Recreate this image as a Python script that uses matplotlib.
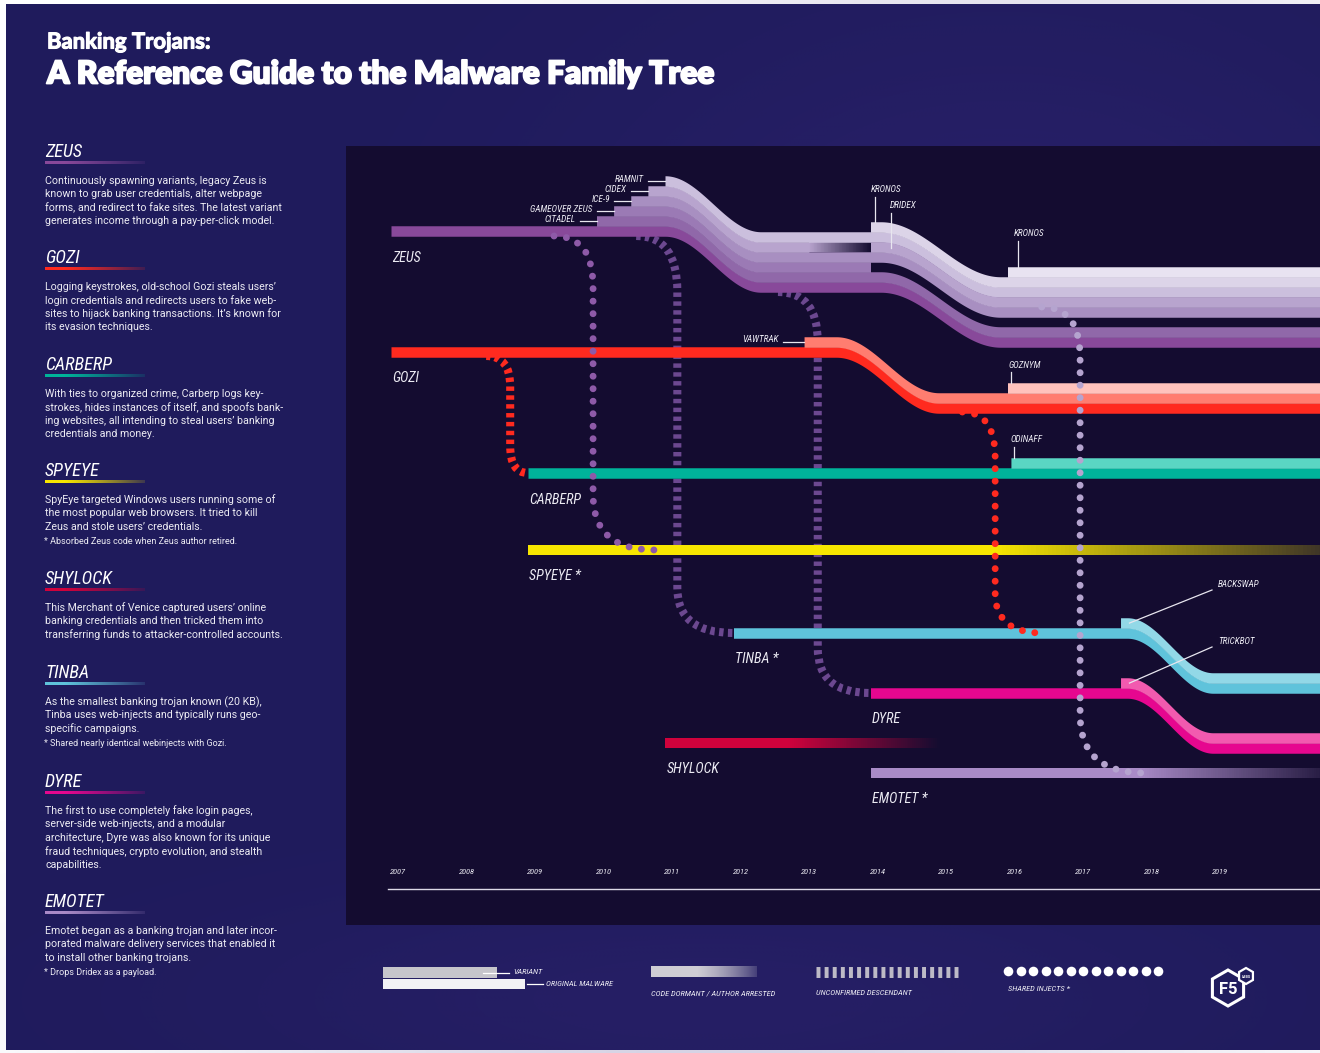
import numpy as np
import matplotlib
matplotlib.use('Agg')
import matplotlib.pyplot as plt
from matplotlib.path import Path
from matplotlib.patches import PathPatch, Rectangle, Polygon
from matplotlib import font_manager as fm
from matplotlib.colors import to_rgb
import matplotlib.patheffects as pe

# ---------------------------------------------------------------- data
years = list(range(2007, 2020))
year_labels = [str(y) for y in years]

families = ['ZEUS', 'GOZI', 'CARBERP', 'SPYEYE', 'TINBA', 'DYRE', 'SHYLOCK', 'EMOTET']
family_labels = ['ZEUS', 'GOZI', 'CARBERP', 'SPYEYE *', 'TINBA *', 'DYRE', 'SHYLOCK', 'EMOTET *']
family_start = [2007.0, 2007.0, 2009.0, 2009.0, 2012.0, 2014.0, 2011.0, 2014.0]
family_end = [None, None, None, None, None, None, 2015.0, None]
family_fade = [None, None, None, (2015.8, 0.18), None, None, (2012.8, 0.0), (2017.9, 0.12)]
family_colors = ['#88499a', '#ff2a1f', '#00b39a', '#f7e600', '#5fc3db', '#e6078f', '#d0023c', '#a98bc7']

# bundle shifts: (family, start year, end year, shift in lane rows)
shift_family = ['ZEUS', 'ZEUS', 'GOZI', 'TINBA', 'DYRE']
shift_start = [2011.0, 2014.15, 2013.5, 2017.75, 2017.75]
shift_end = [2012.4, 2015.9, 2015.0, 2019.0, 2019.0]
shift_rows = [56, 55, 56, 55, 55]

# variants: parent, name, stacking level, start, end, fade start
variant_parent = ['ZEUS', 'ZEUS', 'ZEUS', 'ZEUS', 'ZEUS', 'ZEUS', 'ZEUS', 'ZEUS',
                  'GOZI', 'GOZI', 'CARBERP', 'TINBA', 'DYRE']
variant_names = ['CITADEL', 'GAMEOVER ZEUS', 'ICE-9', 'CIDEX', 'RAMNIT', 'DRIDEX', 'KRONOS', 'KRONOS',
                 'VAWTRAK', 'GOZNYM', 'ODINAFF', 'BACKSWAP', 'TRICKBOT']
variant_level = [1, 2, 3, 4, 5, 4, 6, 7, 1, 2, 1, 1, 1]
variant_start = [2010.0, 2010.25, 2010.5, 2010.75, 2011.0, 2014.0, 2014.0, 2016.0,
                 2013.03, 2016.0, 2016.05, 2017.65, 2017.65]
variant_end = [None, 2014.0, None, 2014.0, None, None, None, None,
               None, None, None, None, None]
variant_fade = [None, None, None, 2013.1, None, None, None, None,
                None, None, None, None, None]
variant_colors = ['#9068a9', '#9b7ab5', '#a88fc1', '#b8a4ce', '#cbbfdd', '#b8a4ce', '#dcd4e8', '#e8e3f1',
                  '#ff7d70', '#ffc3bd', '#5ad6c3', '#92d8e7', '#f25aaf']

# relations: from, to, kind, start year, vertical year, end year
rel_from = ['GOZI', 'ZEUS', 'ZEUS', 'ZEUS', 'GOZI', 'ZEUS']
rel_to = ['CARBERP', 'SPYEYE', 'TINBA', 'DYRE', 'TINBA', 'EMOTET']
rel_kind = ['descendant', 'injects', 'descendant', 'descendant', 'injects', 'injects']
rel_x_start = [2008.39, 2009.38, 2010.58, 2012.65, 2015.34, 2016.5]
rel_x_turn = [2008.74, 2009.95, 2011.18, 2013.23, 2015.82, 2017.06]
rel_x_end = [2009.0, 2010.85, 2012.0, 2013.99, 2016.5, 2018.0]

# ---------------------------------------------------------------- layout / style
W, H, DPI = 1320, 1053, 100
OUTER = '#1f1b5c'
PANEL = '#140c30'
TXT = '#ecebf3'
PX0, PXY = 391.0, 68.5          # pixel of 2007, pixels per year
def px2yr(p):
    return 2007 + (p - PX0) / PXY

lane_row = dict(zip(families, [231, 352, 473, 550, 633, 693, 743, 773]))
BAND = 10.0
rel_start_row_by_idx = [356, 236, 236, 292, 412, 307]
rel_r1 = [30, 50, 55, 50, 45, 50]
rel_r2 = [27, 55, 45, 45, 40, 58]
rel_color = ['#ff2a1f', '#8e5aa8', '#6c4890', '#6c4890', '#ff2a1f', '#b5a4cf']

avail = {f.name for f in fm.fontManager.ttflist}
def pick(*names):
    for n in names:
        if n in avail:
            return n
    return 'DejaVu Sans'
COND = pick('Liberation Sans Narrow', 'Roboto Condensed', 'Open Sans Condensed', 'Roboto', 'DejaVu Sans')
BODY = pick('Roboto', 'Lato', 'Open Sans', 'DejaVu Sans')
TITLE = pick('Lato', 'Inter', 'Roboto', 'DejaVu Sans')

fig = plt.figure(figsize=(W / DPI, H / DPI), dpi=DPI, facecolor='white')
bg = fig.add_axes([0, 0, 1, 1])
bg.set_xlim(0, W); bg.set_ylim(H, 0); bg.axis('off')
bg.add_patch(Rectangle((6, 4), W - 6, 1046, color=OUTER, zorder=0, lw=0))
# soft glow (decoration)
gy, gx = np.mgrid[0:H:4, 0:W:4]
glow = np.exp(-(((gx - 1000) / 420.0) ** 2 + ((gy - 300) / 300.0) ** 2)) * 0.35 \
     + np.exp(-(((gx - 700) / 500.0) ** 2 + ((gy - 1000) / 120.0) ** 2)) * 0.25
rgba = np.zeros(gx.shape + (4,))
rgba[..., :3] = to_rgb('#3a2a80')
rgba[..., 3] = glow
bg.imshow(rgba, extent=(0, W, H, 0), zorder=0.5, interpolation='bilinear', aspect='auto')
bg.add_patch(Rectangle((346, 146), W - 346, 779, color=PANEL, zorder=1, lw=0))
bg.set_xlim(0, W); bg.set_ylim(H, 0)

X0, X1, Y0, Y1 = 346, 1320, 146, 925
ax = fig.add_axes([X0 / W, 1 - Y1 / H, (X1 - X0) / W, (Y1 - Y0) / H])
XMIN, XMAX = px2yr(X0), px2yr(X1)
ax.set_xlim(XMIN, XMAX); ax.set_ylim(Y1, Y0); ax.axis('off')

fig.canvas.draw()
R = fig.canvas.get_renderer()

def fit(axh, x, y, s, width, size0=10, **kw):
    t = axh.text(x, y, s, fontsize=size0, **kw)
    w = t.get_window_extent(R).width
    t.set_fontsize(size0 * width / w)
    return t

def size_for(s, width, **kw):
    t = bg.text(0, 0, s, fontsize=10, **kw)
    w = t.get_window_extent(R).width
    t.remove()
    return 10 * width / w

# ---------------------------------------------------------------- bands
def centre(fam, x):
    y = np.full_like(x, lane_row[fam], dtype=float)
    for f, a, b, d in zip(shift_family, shift_start, shift_end, shift_rows):
        if f == fam:
            t = np.clip((x - a) / (b - a), 0, 1)
            y = y + d * (0.5 - 0.5 * np.cos(np.pi * t))
    return y

pan = np.array(to_rgb(PANEL))
def band(fam, level, x0, x1, color, fade=None, z=3):
    x1 = XMAX + 0.05 if x1 is None else x1
    c = np.array(to_rgb(color))
    if fade is None:
        xs = np.linspace(x0, x1, 600)
        yc = centre(fam, xs) - BAND * level
        ax.fill_between(xs, yc - BAND / 2 - 0.25, yc + BAND / 2 + 0.25, color=c, lw=0, zorder=z)
        return
    fstart, a_end = fade
    xs = np.linspace(x0, fstart, 300)
    yc = centre(fam, xs) - BAND * level
    ax.fill_between(xs, yc - BAND / 2 - 0.25, yc + BAND / 2 + 0.25, color=c, lw=0, zorder=z)
    edges = np.linspace(fstart, x1, 80)
    for i in range(len(edges) - 1):
        a = 1 - (1 - a_end) * (i + 0.5) / (len(edges) - 1)
        col = a * c + (1 - a) * pan
        xs = np.array([edges[i], edges[i + 1] + 0.003])
        yc = centre(fam, xs) - BAND * level
        ax.fill_between(xs, yc - BAND / 2 - 0.25, yc + BAND / 2 + 0.25, color=col, lw=0, zorder=z)

def relation(i):
    fam_to = rel_to[i]
    xs, xv, xe = rel_x_start[i], rel_x_turn[i], rel_x_end[i]
    ys = rel_start_row_by_idx[i]
    ye = lane_row[fam_to]
    verts = [(xs, ys), (xv, ys), (xv, ys + rel_r1[i]), (xv, ye - rel_r2[i]), (xv, ye), (xe, ye)]
    codes = [Path.MOVETO, Path.CURVE3, Path.CURVE3, Path.LINETO, Path.CURVE3, Path.CURVE3]
    if rel_kind[i] == 'descendant':
        p = PathPatch(Path(verts, codes), fill=False, lw=5.8, ec=rel_color[i],
                      ls=(0, (0.55, 0.55)), zorder=2)
        p.set_capstyle('butt')
    else:
        p = PathPatch(Path(verts, codes), fill=False, lw=5.0, ec=rel_color[i],
                      ls=(0, (0.001, 1.8)), zorder=6)
        p.set_capstyle('round')
    ax.add_patch(p)

for i in range(len(rel_from)):
    relation(i)

for f, s, e, fd, c in zip(families, family_start, family_end, family_fade, family_colors):
    band(f, 0, s, e, c, fd)
for p, n, lv, s, e, fd, c in zip(variant_parent, variant_names, variant_level, variant_start,
                                  variant_end, variant_fade, variant_colors):
    band(p, lv, s, e, c, None if fd is None else (fd, 0.0))

# family labels
lab_size = size_for('CARBERP', 52, family=COND, style='italic')
for f, lab, s in zip(families, family_labels, family_start):
    ax.text(s + 0.02, lane_row[f] + 26.5, lab, fontsize=lab_size, family=COND, style='italic',
            color=TXT, va='center', ha='left', zorder=7)

# variant labels
vs = size_for('GAMEOVER ZEUS', 62, family=COND, style='italic')
vkw = dict(fontsize=vs, family=COND, style='italic', color=TXT, zorder=8)
lkw = dict(color='#e8e6ef', lw=0.9, zorder=8)
for n, lv, s in zip(variant_names[:5], variant_level[:5], variant_start[:5]):
    yrow = lane_row['ZEUS'] - BAND * lv
    ax.plot([s - 17 / PXY, s], [yrow, yrow], **lkw)
    ax.text(s - 21 / PXY, yrow - 1, n, ha='right', va='center', **vkw)
def vlead(parent, level, s, xline, ytext, yend, name):
    yb = centre(parent, np.array([s]))[0] - BAND * level
    ax.plot([xline, xline], [ytext + 7, yend if yend is not None else yb - BAND / 2], **lkw)
    ax.text(s, ytext, name, ha='left', va='center', **vkw)
vlead('ZEUS', 6, 2014.0, 2014.07, 190, None, 'KRONOS')
vlead('ZEUS', 4, 2014.28, 2014.3, 206, centre('ZEUS', np.array([2014.3]))[0] - BAND * 4, 'DRIDEX')
vlead('ZEUS', 7, 2016.09, 2016.15, 234, None, 'KRONOS')
vlead('GOZI', 2, 2016.02, 2016.05, 365, None, 'GOZNYM')
vlead('CARBERP', 1, 2016.05, 2016.1, 440, None, 'ODINAFF')
yv = lane_row['GOZI'] - BAND
ax.plot([px2yr(783), 2013.03], [yv, yv], **lkw)
ax.text(px2yr(779), yv - 2, 'VAWTRAK', ha='right', va='center', **vkw)
for parent, name, ytext in [('TINBA', 'BACKSWAP', 585), ('DYRE', 'TRICKBOT', 642)]:
    yb = centre(parent, np.array([2017.78]))[0] - BAND
    ax.plot([2017.78, px2yr(1212)], [yb, ytext + 5], **lkw)
    ax.text(px2yr(1218), ytext, name, ha='left', va='center', **vkw)

# year axis
ys_ = size_for('2007', 16, family=COND, style='italic')
for y, l in zip(years, year_labels):
    ax.text(y - 0.015, 872, l, fontsize=ys_, family=COND, style='italic', color=TXT,
            ha='left', va='center', zorder=7)
ax.plot([px2yr(388), XMAX + 0.1], [889, 889], color='#dcd9e6', lw=1.0, zorder=7, clip_on=True)

# ---------------------------------------------------------------- title
bold_fx = [pe.withStroke(linewidth=1.3, foreground='white')]
fit(bg, 47, 42, 'Banking Trojans:', 164, family=TITLE, weight='bold', color='white', va='center',
    zorder=5, path_effects=[pe.withStroke(linewidth=0.8, foreground='white')])
fit(bg, 47, 74, 'A Reference Guide to the Malware Family Tree', 670, family=TITLE, weight='heavy',
    color='white', va='center', zorder=5, path_effects=bold_fx)

# ---------------------------------------------------------------- left panel text
sections = [
    ('ZEUS', family_colors[0], 152, ["Continuously spawning variants, legacy Zeus is",
                                    "known to grab user credentials, alter webpage",
                                    "forms, and redirect to fake sites. The latest variant",
                                    "generates income through a pay-per-click model."], None),
    ('GOZI', family_colors[1], 258, ["Logging keystrokes, old-school Gozi steals users\u2019",
                                    "login credentials and redirects users to fake web-",
                                    "sites to hijack banking transactions. It\u2019s known for",
                                    "its evasion techniques."], None),
    ('CARBERP', family_colors[2], 365, ["With ties to organized crime, Carberp logs key-",
                                       "strokes, hides instances of itself, and spoofs bank-",
                                       "ing websites, all intending to steal users\u2019 banking",
                                       "credentials and money."], None),
    ('SPYEYE', family_colors[3], 471, ["SpyEye targeted Windows users running some of",
                                      "the most popular web browsers. It tried to kill",
                                      "Zeus and stole users\u2019 credentials."],
     "* Absorbed Zeus code when Zeus author retired."),
    ('SHYLOCK', family_colors[6], 579, ["This Merchant of Venice captured users\u2019 online",
                                       "banking credentials and then tricked them into",
                                       "transferring funds to attacker-controlled accounts."], None),
    ('TINBA', family_colors[4], 673, ["As the smallest banking trojan known (20 KB),",
                                     "Tinba uses web-injects and typically runs geo-",
                                     "specific campaigns."],
     "* Shared nearly identical webinjects with Gozi."),
    ('DYRE', family_colors[5], 782, ["The first to use completely fake login pages,",
                                    "server-side web-injects, and a modular",
                                    "architecture, Dyre was also known for its unique",
                                    "fraud techniques, crypto evolution, and stealth",
                                    "capabilities."], None),
    ('EMOTET', family_colors[7], 902, ["Emotet began as a banking trojan and later incor-",
                                      "porated malware delivery services that enabled it",
                                      "to install other banking trojans."],
     "* Drops Dridex as a payload."),
]
hs = size_for('SHYLOCK', 68, family=COND, style='italic')
bs = size_for('forms, and redirect to fake sites. The latest variant', 238, family=BODY)
fs = size_for('* Absorbed Zeus code when Zeus author retired.', 193, family=BODY)
for name, col, yh, lines, foot in sections:
    bg.text(45, yh, name, fontsize=hs, family=COND, style='italic', color='white', va='center', zorder=5)
    c = np.array(to_rgb(col))
    grad = np.zeros((1, 100, 4))
    grad[0, :, :3] = c
    grad[0, :, 3] = np.clip(1.15 - np.linspace(0, 1, 100) ** 1.2, 0, 1)
    bg.imshow(grad, extent=(45, 145, yh + 12, yh + 9), aspect='auto', zorder=5, interpolation='bilinear')
    for j, ln in enumerate(lines):
        bg.text(45, yh + 29 + 13.4 * j, ln, fontsize=bs, family=BODY, color=TXT, va='center', zorder=5)
    if foot:
        bg.text(44, yh + 29 + 13.4 * len(lines) + 1.5, foot, fontsize=fs, family=BODY, color=TXT,
                va='center', zorder=5)
bg.set_xlim(0, W); bg.set_ylim(H, 0)

# ---------------------------------------------------------------- legend
ls_ = size_for('CODE DORMANT / AUTHOR ARRESTED', 124, family=COND, style='italic')
lk = dict(fontsize=ls_, family=COND, style='italic', color=TXT, va='center', zorder=6)
bg.add_patch(Rectangle((383, 967), 114, 11, color='#c6c5cb', lw=0, zorder=5))
bg.add_patch(Rectangle((383, 978.5), 142, 10.5, color='#f2f2f5', lw=0, zorder=5))
bg.plot([483, 509], [972.5, 972.5], color='white', lw=0.9, zorder=6)
bg.plot([527, 543], [984, 984], color='white', lw=0.9, zorder=6)
bg.text(513, 972.5, 'VARIANT', **lk)
bg.text(546, 984, 'ORIGINAL MALWARE', **lk)
g2 = np.zeros((1, 100, 4))
g2[0, :, :3] = to_rgb('#cfcdd4')
g2[0, :, 3] = np.clip(1.2 - np.linspace(0, 1, 100) ** 2, 0, 1)
bg.imshow(g2, extent=(651, 757, 977.5, 967), aspect='auto', zorder=5, interpolation='bilinear')
bg.text(651, 993, 'CODE DORMANT / AUTHOR ARRESTED', **lk)
bg.plot([816, 962], [971.5, 971.5], color='#bdbac6', lw=7.9, ls=(0, (0.36, 0.38)),
        solid_capstyle='butt', dash_capstyle='butt', zorder=5)
bg.text(816, 993, 'UNCONFIRMED DESCENDANT', **lk)
bg.scatter(np.linspace(1008, 1158, 13), np.full(13, 971), s=48, color='white', lw=0, zorder=5)
bg.text(1008, 989, 'SHARED INJECTS *', **lk)

def hexagon(cx, cy, r):
    ang = np.deg2rad(np.arange(6) * 60 + 90)
    return np.column_stack([cx + r * np.cos(ang), cy - r * np.sin(ang)])
bg.add_patch(Polygon(hexagon(1228, 988, 18), closed=True, fill=False, ec='white', lw=2.2, zorder=6))
bg.add_patch(Polygon(hexagon(1246, 976, 8), closed=True, fc=OUTER, ec='white', lw=1.6, zorder=7))
bg.text(1228, 989, 'F5', fontsize=12, family=BODY, weight='bold', color='white', ha='center', va='center', zorder=7)
bg.text(1246, 976.5, 'LABS', fontsize=2.6, family=BODY, weight='bold', color='white', ha='center', va='center', zorder=8)
bg.set_xlim(0, W); bg.set_ylim(H, 0)

fig.savefig('out.png', dpi=DPI, facecolor='white')
